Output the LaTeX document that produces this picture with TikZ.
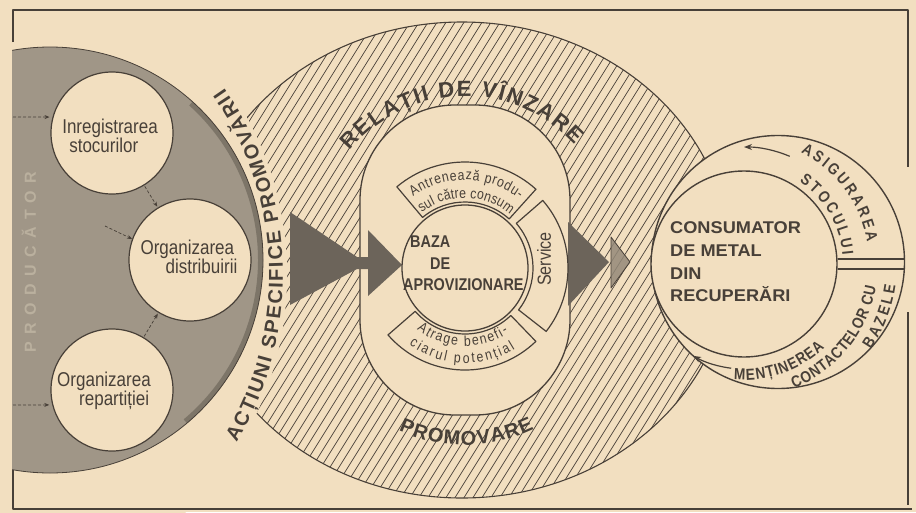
\documentclass[tikz,border=0pt]{standalone}
\usepackage{fontspec}
\setmainfont{Liberation Sans}
\newfontfamily\condf[FakeStretch=0.85]{Liberation Sans}
\newfontfamily\wideb[FakeStretch=1.07]{Liberation Sans}
\newfontfamily\prodf[LetterSpace=46]{Liberation Sans}
\usetikzlibrary{decorations.text,arrows.meta,calc}
\definecolor{paper}{RGB}{242,223,192}
\definecolor{ink}{RGB}{72,64,56}
\definecolor{greyd}{RGB}{160,150,135}
\definecolor{greyedge}{RGB}{125,117,104}
\definecolor{arrowc}{RGB}{108,100,90}
\definecolor{prodc}{RGB}{186,176,158}
\newcommand\myfA{\bfseries\fontsize{20}{20}\selectfont}
\newcommand\myfB{\bfseries\fontsize{22}{22}\selectfont}
\newcommand\myfP{\bfseries\fontsize{20}{20}\selectfont}
\newcommand\myfR{\condf\bfseries\fontsize{16}{16}\selectfont}
\newcommand\myfS{\condf\fontsize{14.5}{14.5}\selectfont}
\tikzset{
  smallc/.style={circle, draw=ink, fill=paper, line width=1.2pt, minimum size=122pt, inner sep=0pt},
  ringc/.style={circle, draw=ink, fill=paper, line width=1.4pt, inner sep=0pt},
  dasharr/.style={draw=ink, line width=0.7pt, dash pattern=on 3pt off 2pt, -{Stealth[length=5pt,width=4pt]}},
  lbl/.style={font=\condf\fontsize{20}{18}\selectfont, text=ink, align=left, inner sep=0pt},
  bazat/.style={font=\condf\bfseries\fontsize{17}{17}\selectfont, text=ink, inner sep=0pt, anchor=base west},
  const/.style={font=\wideb\bfseries\fontsize{17}{17}\selectfont, text=ink, inner sep=0pt, anchor=base west},
  curvetext/.style={decorate, decoration={text along path, text align=fit to path, text color=ink}},
  boxline/.style={draw=ink, line width=1.2pt, fill=paper},
}
\begin{document}
\begin{tikzpicture}[x=1pt,y=1pt,line join=round]
\useasboundingbox (0,0) rectangle (916,-512);
\fill[paper] (0,0) rectangle (916,-512);

% hatched promotion ellipse
\begin{scope}
  \clip (462,-260) ellipse [x radius=268, y radius=238];
  \foreach \k in {-15,...,82} \draw[ink, line width=0.7pt] (\k*9,-520) -- ++(58:700);
\end{scope}
\draw[ink, line width=1.1pt] (462,-260) ellipse [x radius=268, y radius=238];

% band for the curved text
\fill[paper] (-42,-275) circle [radius=329];

% producer half disk
\begin{scope}
  \clip (12,0) rectangle (400,-512);
  \fill[greyd] (50,-260) circle [radius=213];
  \draw[greyedge, line width=5pt] ([shift={(50,-260)}]-50:210.5) arc[start angle=-50, end angle=48, radius=210.5];
  \draw[ink, line width=0.8pt] (50,-260) circle [radius=213];
\end{scope}
\node[rotate=90, text=prodc, font=\prodf\bfseries\fontsize{16}{16}\selectfont, inner sep=0pt] (prod) at (29,-262) {PRODUCĂTOR};

% frame
\draw[ink, line width=1.5pt] (13,-42) -- (13,-10) -- (908,-10) -- (908,-167);
\draw[ink, line width=1.5pt] (908,-312) -- (908,-505);
\draw[ink, line width=1.5pt] (13,-470) -- (13,-509) -- (912,-509);

% small circles
\node[smallc] (c1) at (112,-133) {};
\node[smallc] (c2) at (190,-260) {};
\node[smallc] (c3) at (112,-390) {};
\node[lbl] (t1) at (110,-136) {Inregistrarea\\\hspace*{7pt}stocurilor};
\node[lbl] (t2) at (189,-257) {Organizarea\\\hspace*{25pt}distribuirii};
\node[lbl] (t3) at (104,-391) {Organizarea\\\hspace*{22pt}repartiției};

\coordinate (e1) at (13,-117);
\coordinate (e3) at (13,-405);
\coordinate (e2) at (105,-226);
\draw[dasharr, shorten >=3pt] (e1) -- (c1.165);
\draw[dasharr, shorten >=3pt] (e3) -- (c3.194);
\draw[dasharr] (e2) -- (c2.160);
\draw[dasharr, shorten <=1pt, shorten >=1pt] (c1) -- (c2);
\draw[dasharr, shorten <=1pt, shorten >=1pt] (c3) -- (c2);

% inner oval
\node[draw=ink, fill=paper, line width=1.3pt, rounded corners=95pt, minimum width=210pt, minimum height=310pt, inner sep=0pt] (oval) at (465,-260) {};

% right circles
\node[ringc, minimum size=253pt] (ringo) at (778,-262) {};
\node[ringc, minimum size=186pt] (cons) at (744,-264) {};
\coordinate (dl1) at ([yshift=5pt]cons.east);
\coordinate (dl2) at ([yshift=-5pt]cons.east);
\draw[ink, line width=1.3pt] (dl1) -- (dl1 -| ringo.east);
\draw[ink, line width=1.3pt] (dl2) -- (dl2 -| ringo.east);

% arrows
\fill[arrowc] (290,-212) -- (357,-257) -- (368,-257) -- (368,-230) -- (402,-265) -- (368,-296) -- (368,-269) -- (357,-269) -- (290,-305) -- cycle;
\fill[arrowc] (568,-222) -- (609,-262) -- (568,-306) -- cycle;
\filldraw[fill=arrowc!70!paper, fill opacity=0.85, draw=ink, line width=0.8pt] (611,-237) -- (630,-262) -- (611,-288) -- cycle;

% base circle and its boxes
\node[circle, draw=ink, fill=paper, line width=1.3pt, minimum size=126pt, inner sep=0pt] (baza) at (465,-268) {};
\draw[boxline] ([shift={(465,-268)}]48:66) arc[start angle=48, end angle=130, radius=66] -- ([shift={(465,-268)}]130:106) arc[start angle=130, end angle=48, radius=106] -- cycle;
\draw[boxline] ([shift={(465,-268)}]-38:68) arc[start angle=-38, end angle=41, radius=68] -- ([shift={(465,-268)}]41:103) arc[start angle=41, end angle=-38, radius=103] -- cycle;
\draw[boxline] ([shift={(465,-268)}]-139:66) arc[start angle=-139, end angle=-46, radius=66] -- ([shift={(465,-268)}]-46:102) arc[start angle=-46, end angle=-139, radius=102] -- cycle;
\path[curvetext, decoration={text={|\myfS|Antrenează produ-}}] ([shift={(465,-268)}]126:88) arc[start angle=126, end angle=52, radius=88];
\path[curvetext, decoration={text={|\myfS|sul către consum}}] ([shift={(465,-268)}]128:70) arc[start angle=128, end angle=50, radius=70];
\path[curvetext, decoration={text={|\myfS|Atrage benefi-}}] ([shift={(465,-268)}]-128:78) arc[start angle=-128, end angle=-56, radius=78];
\path[curvetext, decoration={text={|\myfS|ciarul potențial}}] ([shift={(465,-268)}]-126:95) arc[start angle=-126, end angle=-58, radius=95];
\node[rotate=90, text=ink, font=\condf\fontsize{19}{19}\selectfont, inner sep=0pt] (serv) at (544,-259) {Service};

\node[bazat] (bz1) at (410,-247) {BAZA};
\node[bazat] (bz2) at (430,-269) {DE};
\node[bazat] (bz3) at (403,-290) {APROVIZIONARE};

\node[const] (k1) at (670,-233) {CONSUMATOR};
\node[const] (k2) at (670,-256) {DE METAL};
\node[const] (k3) at (670,-279) {DIN};
\node[const] (k4) at (670,-301) {RECUPERĂRI};

% curved titles
\path[curvetext, decoration={text={|\myfA|ACȚIUNI SPECIFICE PROMOVĂRII}}] ([shift={(-42,-275)}]-31:325) arc[start angle=-31, end angle=35, radius=325];
\path[curvetext, decoration={text={|\myfB|RELAȚII DE VÎNZARE}}] ([shift={(465,-262)}]138:155 and 166) arc[start angle=138, end angle=45, x radius=155, y radius=166];
\path[curvetext, decoration={text={|\myfP|PROMOVARE}}] ([shift={(465,-262)}]-113:170 and 183) arc[start angle=-113, end angle=-66, x radius=170, y radius=183];

% ring texts and arrows
\path[curvetext, decoration={text={|\myfR|ASIGURAREA}}] ([shift={(744,-264)}]63:125) arc[start angle=63, end angle=10, radius=125];
\path[curvetext, decoration={text={|\myfR|STOCULUI}}] ([shift={(744,-264)}]56:99) arc[start angle=56, end angle=5, radius=99];
\path[curvetext, decoration={text={|\myfR|MENȚINEREA}}] ([shift={(744,-264)}]-95:116) arc[start angle=-95, end angle=-46, radius=116];
\path[curvetext, decoration={text={|\myfR|CONTACTELOR CU}}] ([shift={(744,-264)}]-68:134) arc[start angle=-68, end angle=-10, radius=134];
\path[curvetext, decoration={text={|\myfR|BAZELE}}] ([shift={(744,-264)}]-34:153) arc[start angle=-34, end angle=-8, radius=153];
\draw[ink, line width=1.2pt, -{Stealth[length=8pt,width=6pt]}] ([shift={(744,-264)}]67:117) arc[start angle=67, end angle=90, radius=117];
\draw[ink, line width=1.2pt, -{Stealth[length=8pt,width=6pt]}] ([shift={(744,-264)}]-97:105) arc[start angle=-97, end angle=-119, radius=105];
\end{tikzpicture}
\end{document}
